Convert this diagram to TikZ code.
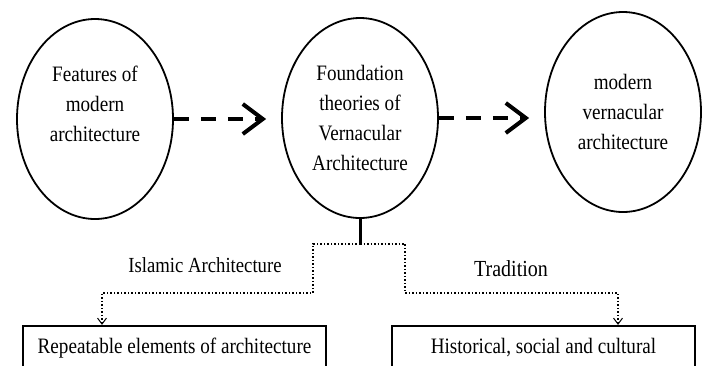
\documentclass[tikz,border=0pt]{standalone}
\usepackage{fontspec}
\setmainfont{Liberation Serif}[FakeStretch=0.87]
\usetikzlibrary{arrows.meta,shapes,calc,positioning}

\begin{document}
\begin{tikzpicture}[x=1pt,y=-1pt]
		\tikzstyle{every node}=[font=\fontsize{22}{30}\selectfont, align=center]
		\tikzstyle{bubble}=[draw, ellipse, line width=1.8pt, minimum width=156pt, minimum height=200pt, inner sep=0pt]
		\tikzstyle{flow}=[line width=4pt, dash pattern=on 15pt off 12pt, shorten >=15pt, -{Straight Barb[length=20pt,width=30pt]}]
		\tikzstyle{link}=[line width=1.5pt, dotted, -{Straight Barb[length=6pt,width=9pt,line width=1pt]}]
		\tikzstyle{panel}=[draw, line width=2.2pt, minimum width=303pt, minimum height=44pt, inner sep=0pt]
		\useasboundingbox (0,0) rectangle (708,365);
		\clip (0,0) rectangle (708,365);
		\node [bubble] (feat) at (95,119) {Features of\\modern\\architecture\\~};
		\node [bubble] (found) at (360,118) {Foundation\\theories of\\Vernacular\\Architecture};
		\node [bubble] (modv) at (623,112) {modern\\vernacular\\architecture};
		\draw [flow] (feat.east) -- (feat.east -| found.west);
		\draw [flow] (found.east) -- (found.east -| modv.west);
		\node [panel] (rep) at (174.5,348) {Repeatable elements of architecture};
		\node [panel] (hist) at (543.5,348) {Historical, social and cultural};
		\coordinate (fork) at ($(found.south)+(0,25)$);
		\coordinate (lkink) at (313,293);
		\coordinate (rkink) at (405,293);
		\draw [line width=3pt] (found.south) -- (fork);
		\draw [link] (fork) -| (lkink) -| ([xshift=-72.5pt]rep.north);
		\draw [link] (fork) -| (rkink) -| ([xshift=74.5pt]hist.north);
		\node [font=\fontsize{21.5}{25}\selectfont] (isl) at (205,265) {Islamic Architecture};
		\node [font=\fontsize{23}{25}\selectfont] (trad) at (511,269) {Tradition};
	\end{tikzpicture}
\end{document}
